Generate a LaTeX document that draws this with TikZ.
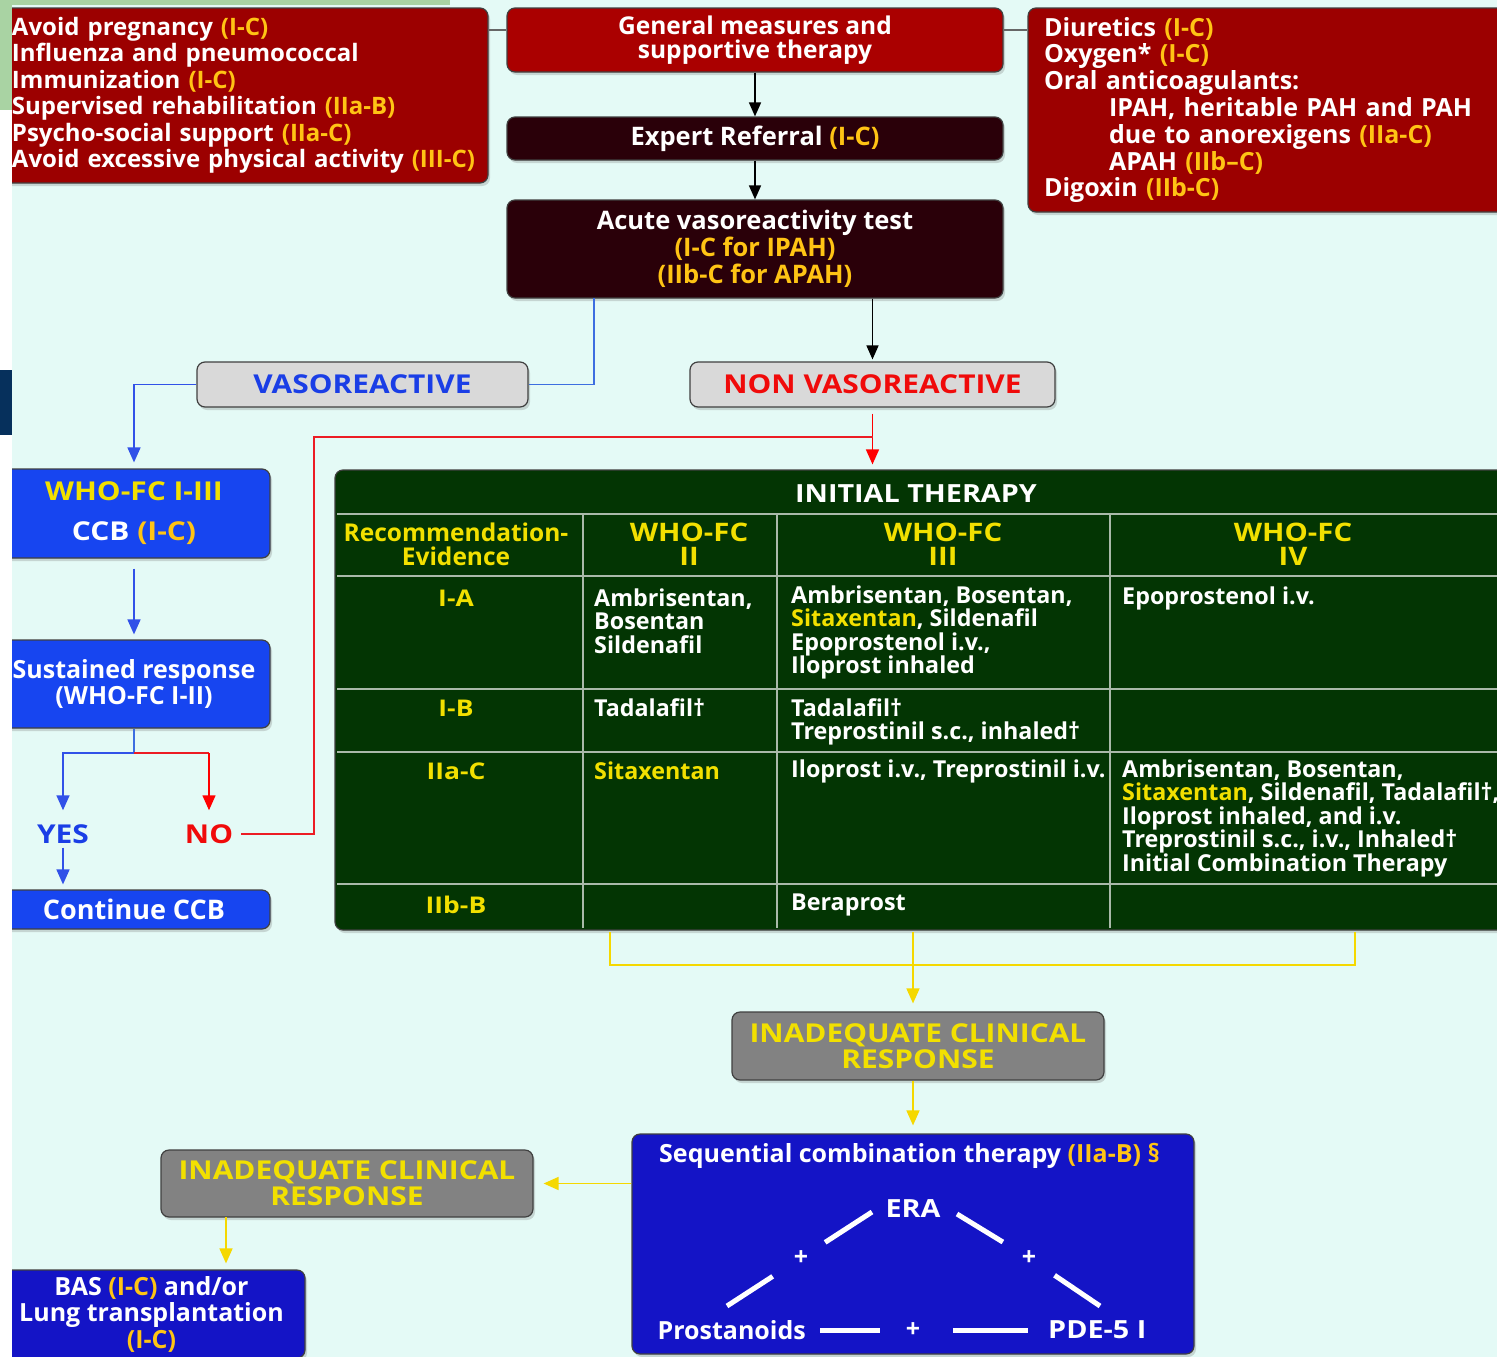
\documentclass[tikz,border=0pt]{standalone}
\usepackage{fontspec}
\setmainfont{Open Sans}
\newfontfamily\widefont[FakeStretch=1.15]{Open Sans}
\usetikzlibrary{arrows.meta,shadows,calc}
\definecolor{pagebg}{HTML}{E4FAF6}
\definecolor{stripgreen}{HTML}{A9D3A3}
\definecolor{stripnavy}{HTML}{06305C}
\definecolor{measred}{HTML}{9C0000}
\definecolor{headred}{HTML}{AA0000}
\definecolor{testdark}{HTML}{2A0009}
\definecolor{vasogray}{HTML}{D9D9D9}
\definecolor{vasoblue}{HTML}{1A3EE6}
\definecolor{nonred}{HTML}{F00A0A}
\definecolor{ccbblue}{HTML}{1745F0}
\definecolor{seqblue}{HTML}{1414C6}
\definecolor{tabgreen}{HTML}{033503}
\definecolor{tabrule}{HTML}{A9B9A9}
\definecolor{respgray}{HTML}{828282}
\definecolor{levelyellow}{HTML}{FFC414}
\definecolor{headyellow}{HTML}{F2E000}
\definecolor{linkblue}{HTML}{3D6EE0}
\definecolor{linkred}{HTML}{EC1C24}
\definecolor{linkyellow}{HTML}{F5D800}
\newcommand\lvl[1]{\textcolor{levelyellow}{#1}}
\newcommand\hy[1]{\textcolor{headyellow}{#1}}
\newcommand\pahfont[2]{\bfseries\fontsize{#1}{#2}\selectfont}
\newcommand\widepah[2]{\widefont\bfseries\fontsize{#1}{#2}\selectfont}
\tikzset{
  box/.style={rectangle, rounded corners=8pt, draw=black!75, line width=1.2pt,
    inner sep=0pt, text=white, align=center,
    drop shadow={opacity=0.3, shadow xshift=2pt, shadow yshift=-3pt}},
  measbox/.style={box, fill=measred, align=left, font=\pahfont{24}{26.5}},
  headbox/.style={box, fill=headred, font=\pahfont{24.5}{24}},
  darkbox/.style={box, fill=testdark, font=\pahfont{25.5}{27}},
  vasobox/.style={box, fill=vasogray, font=\widepah{26}{26}},
  ccbbox/.style={box, fill=ccbblue, font=\pahfont{25}{26}},
  respbox/.style={box, fill=respgray, text=headyellow, font=\widepah{26}{26}},
  seqbox/.style={box, fill=seqblue},
  cell/.style={inner sep=0pt, text=white, align=left, anchor=west, font=\pahfont{23.3}{23.5}},
  headcell/.style={cell, anchor=center, align=center, text=headyellow, font=\pahfont{24.5}{24}},
  fccell/.style={headcell, font=\widepah{25.5}{24}},
  levelcell/.style={headcell, font=\widepah{23}{24}},
  answer/.style={inner sep=0pt, font=\widepah{26}{26}},
  seqtext/.style={inner sep=0pt, text=white, font=\pahfont{25}{26}},
  arr/.style={-{Triangle[width=12pt,length=14pt]}, line width=1.6pt, draw=black},
  bluelink/.style={line width=1.6pt, draw=linkblue},
  bluearr/.style={bluelink, -{Triangle[width=13pt,length=15pt]}, draw=vasoblue!90},
  redlink/.style={line width=1.6pt, draw=linkred},
  redarr/.style={redlink, -{Triangle[width=13pt,length=15pt]}, draw=red},
  yellowlink/.style={line width=1.6pt, draw=linkyellow},
  yellowarr/.style={yellowlink, -{Triangle[width=13pt,length=15pt]}},
  graylink/.style={line width=1.2pt, draw=black!60},
  tabline/.style={line width=1.6pt, draw=tabrule},
  triline/.style={line width=5pt, draw=white}
}
\begin{document}
\begin{tikzpicture}[x=1pt,y=-1pt]
  \useasboundingbox (0,0) rectangle (1497,1357);
  \fill[pagebg] (0,0) rectangle (1497,1357);
  \clip (0,0) rectangle (1497,1357);

  \node[measbox, minimum width=488, minimum height=175, text width=464] (measures) at (244,95.5)
    {Avoid pregnancy \lvl{(I-C)}\\Influenza and pneumococcal\\Immunization \lvl{(I-C)}\\
     Supervised rehabilitation \lvl{(IIa-B)}\\Psycho-social support \lvl{(IIa-C)}\\
     Avoid excessive physical activity \lvl{(III-C)}};
  \node[headbox, minimum width=496, minimum height=64] (general) at (755,40)
    {General measures and\\supportive therapy};
  \node[measbox, minimum width=482, minimum height=204, text width=450, font=\pahfont{25}{26.8}] (supportive) at (1269,110)
    {Diuretics \lvl{(I-C)}\\Oxygen* \lvl{(I-C)}\\Oral anticoagulants:\\
     \hspace*{65pt}IPAH, heritable PAH and PAH\\\hspace*{65pt}due to anorexigens \lvl{(IIa-C)}\\
     \hspace*{65pt}APAH \lvl{(IIb--C)}\\Digoxin \lvl{(IIb-C)}};
  \node[darkbox, minimum width=496, minimum height=43] (referral) at (755,138.5)
    {Expert Referral \lvl{(I-C)}};
  \node[darkbox, minimum width=496, minimum height=98] (acute) at (755,249)
    {Acute vasoreactivity test\\\lvl{(I-C for IPAH)}\\\lvl{(IIb-C for APAH)}};
  \node[vasobox, minimum width=331, minimum height=45, text=vasoblue] (vaso) at (362.5,384.5)
    {VASOREACTIVE};
  \node[vasobox, minimum width=365, minimum height=45, text=nonred] (nonvaso) at (872.5,384.5)
    {NON VASOREACTIVE};

  \node[ccbbox, minimum width=272, minimum height=89, font=\widepah{26}{26}] (whofc) at (134,513.5)
    {\hy{WHO-FC I-III}\\[14pt]CCB \lvl{(I-C)}};
  \node[ccbbox, minimum width=272, minimum height=88] (sustained) at (134,684)
    {Sustained response\\(WHO-FC I-II)};
  \node[answer, text=vasoblue] (yes) at (63,834) {YES};
  \node[answer, text=nonred] (no) at (209,834) {NO};
  \node[ccbbox, minimum width=272, minimum height=39, font=\pahfont{27}{26}] (continue) at (134,909.5)
    {Continue CCB};

  \node[box, fill=tabgreen, minimum width=1175, minimum height=460] (initial) at (922.5,700) {};
  \draw[tabline] (337,514) -- (1497,514);
  \foreach \ry in {576,689,752,884}
    \draw[tabline] (337,\ry) -- (1497,\ry);
  \foreach \cx in {583,777,1110}
    \draw[tabline] (\cx,514) -- (\cx,928);
  \node[fccell, text=white, font=\widepah{25}{24}] (title) at (916,494) {INITIAL THERAPY};
  \node[headcell] (evidence) at (456,544) {Recommendation-\\Evidence};
  \node[fccell] (fctwo) at (689,544) {WHO-FC\\II};
  \node[fccell] (fcthree) at (943,544) {WHO-FC\\III};
  \node[fccell] (fcfour) at (1293,544) {WHO-FC\\IV};
  \node[levelcell] (ia) at (456,598) {I-A};
  \node[levelcell] (ib) at (456,708) {I-B};
  \node[levelcell] (iiac) at (456,771) {IIa-C};
  \node[levelcell] (iibb) at (456,905) {IIb-B};
  \node[cell] (iatwo) at (594,621) {Ambrisentan,\\Bosentan\\Sildenafil};
  \node[cell] (iathree) at (791,632.5)
    {Ambrisentan, Bosentan,\\\hy{Sitaxentan}, Sildenafil\\Epoprostenol i.v.,\\Iloprost inhaled};
  \node[cell] (iafour) at (1122,598) {Epoprostenol i.v.};
  \node[cell] (ibtwo) at (594,708) {Tadalafil\textdagger};
  \node[cell] (ibthree) at (791,722) {Tadalafil\textdagger\\Treprostinil s.c., inhaled\textdagger};
  \node[cell, text=headyellow] (iiactwo) at (594,771) {Sitaxentan};
  \node[cell] (iiacthree) at (791,771) {Iloprost i.v., Treprostinil i.v.};
  \node[cell] (iiacfour) at (1122,818)
    {Ambrisentan, Bosentan,\\\hy{Sitaxentan}, Sildenafil, Tadalafil\textdagger,\\
     Iloprost inhaled, and i.v.\\Treprostinil s.c., i.v., Inhaled\textdagger\\
     Initial Combination Therapy};
  \node[cell] (iibbthree) at (791,905) {Beraprost};

  \node[respbox, minimum width=372, minimum height=68] (inadequateA) at (918,1046)
    {INADEQUATE CLINICAL\\RESPONSE};
  \node[seqbox, minimum width=562, minimum height=220] (seq) at (913,1244) {};
  \node[seqtext, anchor=west] (seqtitle) at (659,1156)
    {Sequential combination therapy \lvl{(IIa-B) \S}};
  \node[seqtext, font=\widepah{25}{26}] (era) at (913,1209) {ERA};
  \node[seqtext, anchor=east] (prost) at (806,1330) {Prostanoids};
  \node[seqtext, anchor=west, font=\widepah{25}{26}] (pde) at (1048,1330) {PDE-5 I};
  \node[seqtext] (plusl) at (801,1258) {+};
  \node[seqtext] (plusr) at (1029,1258) {+};
  \node[seqtext] (plusb) at (913,1330) {+};
  \node[respbox, minimum width=372, minimum height=67] (inadequateB) at (347,1183.5)
    {INADEQUATE CLINICAL\\RESPONSE};
  \node[box, fill=seqblue, minimum width=307, minimum height=88, font=\pahfont{25}{26.5}] (bas) at (151.5,1314)
    {BAS \lvl{(I-C)} and/or\\Lung transplantation\\\lvl{(I-C)}};

  \coordinate (toprow) at (0,30);
  \draw[graylink] (measures.east |- toprow) -- (general.west |- toprow);
  \draw[graylink] (general.east |- toprow) -- (supportive.west |- toprow);
  \draw[arr] (general) -- (referral);
  \draw[arr] (referral) -- (acute);
  \coordinate (acutevaso) at (594,298);
  \draw[bluelink] (acutevaso) |- (vaso.east);
  \draw[arr, shorten >=2pt] (acute.south -| nonvaso.north) -- (nonvaso.north);
  \draw[bluearr, shorten >=6pt] (vaso.west) -| (whofc.north);
  \draw[bluearr, shorten <=10pt, shorten >=5pt] (whofc.south) -- (sustained.north);
  \coordinate (split) at (134,753);
  \draw[bluelink] (sustained.south) -- (split);
  \draw[bluearr, shorten >=14pt] (split) -| (yes.north);
  \draw[redlink] (split) -- (split -| no.north);
  \draw[redarr, shorten >=14pt] (split -| no.north) -- (no.north);
  \draw[bluearr, shorten <=4pt, shorten >=5pt] (yes.south) -- (yes.south |- continue.north);
  \draw[redarr, shorten <=6pt, shorten >=5pt] (nonvaso.south) -- (nonvaso.south |- initial.north);
  \coordinate (redturn) at (314,437);
  \draw[redlink, shorten <=8pt] (no.east) -| (redturn) -- (redturn -| nonvaso.south);

  \coordinate (fcleft) at (610,932);
  \coordinate (fcright) at (1355,932);
  \coordinate (fcmid) at (913,932);
  \draw[yellowlink] (fcleft) -- ++(0,33) -| (fcright);
  \draw[yellowarr, shorten >=8pt] (fcmid) -- (fcmid |- inadequateA.north);
  \draw[yellowarr, shorten >=8pt] (fcmid |- inadequateA.south) -- (fcmid |- seq.north);
  \draw[yellowarr, shorten >=10pt] (seq.west |- inadequateB.east) -- (inadequateB.east);
  \coordinate (basdrop) at (226,1217);
  \draw[yellowarr, shorten >=6pt] (basdrop) -- (basdrop |- bas.north);

  \coordinate (prostcorner) at (727,1306);
  \coordinate (eraleft) at (872,1212);
  \coordinate (eraright) at (957,1214);
  \coordinate (pdecorner) at (1100,1306);
  \draw[triline, shorten >=25pt] (prostcorner) -- (plusl);
  \draw[triline, shorten <=20pt] (plusl) -- (eraleft);
  \draw[triline, shorten >=22pt] (eraright) -- (plusr);
  \draw[triline, shorten <=22pt] (plusr) -- (pdecorner);
  \draw[triline, shorten <=14pt, shorten >=26pt] (prost.east) -- (plusb);
  \draw[triline, shorten <=33pt, shorten >=20pt] (plusb) -- (pde.west);

  \fill[white] (0,0) rectangle (12,1357);
  \fill[stripgreen] (0,0) rectangle (12,110);
  \fill[stripgreen] (0,0) rectangle (450,5);
  \fill[stripnavy] (0,370) rectangle (12,435);
\end{tikzpicture}
\end{document}
